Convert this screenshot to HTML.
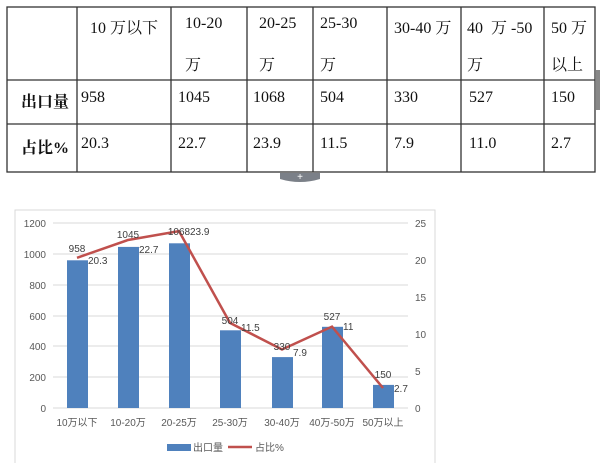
<!DOCTYPE html>
<html><head><meta charset="utf-8"><style>
body{margin:0;width:600px;height:463px;background:#fff;overflow:hidden;position:relative;font-family:"Liberation Serif","Noto Serif CJK SC",serif}
.c{position:absolute;font-size:16px;color:#111}
</style></head><body>
<svg width="600" height="463" style="position:absolute;left:0;top:0">
<g stroke="#333" stroke-width="1.3" fill="none">
<rect x="7" y="7" width="588" height="165"/>
<line x1="7" y1="80" x2="595" y2="80"/><line x1="7" y1="124" x2="595" y2="124"/>
<line x1="77" y1="7" x2="77" y2="172"/><line x1="171" y1="7" x2="171" y2="172"/>
<line x1="247" y1="7" x2="247" y2="172"/><line x1="313" y1="7" x2="313" y2="172"/>
<line x1="387" y1="7" x2="387" y2="172"/><line x1="461" y1="7" x2="461" y2="172"/>
<line x1="544" y1="7" x2="544" y2="172"/>
</g>
<path d="M280 173 h40 v6 q-20 6 -40 0z" fill="#7b8088"/>
<text x="300" y="180" font-size="10" fill="#fff" text-anchor="middle" font-family="Liberation Sans">+</text>
<rect x="596" y="70" width="4" height="40" fill="#888"/>
<rect x="15" y="210" width="420" height="260" fill="#fff" stroke="#d9d9d9"/>
<g stroke="#d9d9d9" stroke-width="1">
<line x1="53" y1="223" x2="408" y2="223"/><line x1="53" y1="254" x2="408" y2="254"/>
<line x1="53" y1="285" x2="408" y2="285"/><line x1="53" y1="316" x2="408" y2="316"/>
<line x1="53" y1="346" x2="408" y2="346"/><line x1="53" y1="377" x2="408" y2="377"/>
<line x1="53" y1="408" x2="408" y2="408"/>
</g>
<g fill="#4f81bd">
<rect x="67" y="260.3" width="21" height="147.7"/>
<rect x="118" y="246.9" width="21" height="161.1"/>
<rect x="169" y="243.3" width="21" height="164.7"/>
<rect x="220" y="330.3" width="21" height="77.7"/>
<rect x="272" y="357.1" width="21" height="50.9"/>
<rect x="322" y="326.8" width="21" height="81.2"/>
<rect x="373" y="384.9" width="21" height="23.1"/>
</g>
<polyline fill="none" stroke="#c0504d" stroke-width="2.5" points="77,257.8 128,240 179,231.1 230,322.9 282,349.5 332,326.6 383,388"/>
<g font-family="Liberation Sans,Noto Sans CJK SC,sans-serif" font-size="10" fill="#595959">
<g text-anchor="end"><text x="46" y="227">1200</text><text x="46" y="258">1000</text><text x="46" y="289">800</text><text x="46" y="320">600</text><text x="46" y="350">400</text><text x="46" y="381">200</text><text x="46" y="412">0</text></g>
<g><text x="415" y="227">25</text><text x="415" y="264">20</text><text x="415" y="301">15</text><text x="415" y="338">10</text><text x="415" y="375">5</text><text x="415" y="412">0</text></g>
<g text-anchor="middle"><text x="77" y="426">10万以下</text><text x="128" y="426">10-20万</text><text x="179" y="426">20-25万</text><text x="230" y="426">25-30万</text><text x="282" y="426">30-40万</text><text x="332" y="426">40万-50万</text><text x="383" y="426">50万以上</text></g>
<g fill="#404040">
<text x="77" y="252" text-anchor="middle">958</text><text x="88" y="264">20.3</text>
<text x="128" y="238" text-anchor="middle">1045</text><text x="139" y="253">22.7</text>
<text x="179" y="235" text-anchor="middle">1068</text><text x="190" y="235">23.9</text>
<text x="230" y="324" text-anchor="middle">504</text><text x="241" y="331">11.5</text>
<text x="282" y="350" text-anchor="middle">330</text><text x="293" y="356">7.9</text>
<text x="332" y="320" text-anchor="middle">527</text><text x="343" y="330">11</text>
<text x="383" y="378" text-anchor="middle">150</text><text x="394" y="392">2.7</text>
</g>
<rect x="167" y="444" width="24" height="7" fill="#4f81bd"/><text x="193" y="451" font-size="10">出口量</text>
<line x1="228" y1="447" x2="252" y2="447" stroke="#c0504d" stroke-width="2.5"/><text x="255" y="451">占比%</text>
</g>
</svg>
<div class="c" style="left:90px;top:15px">10 万以下</div>
<div class="c" style="left:185px;top:15px">10-20</div><div class="c" style="left:185px;top:52px">万</div>
<div class="c" style="left:259px;top:15px">20-25</div><div class="c" style="left:259px;top:52px">万</div>
<div class="c" style="left:283px;top:15px;left:283px;display:none"></div>
<div class="c" style="left:283px;top:15px;display:none"></div>
<div class="c" style="left:283px;top:15px;display:none"></div>
<div class="c" style="left:283px;top:15px;display:none"></div>
<div class="c" style="left:283px;top:15px;display:none"></div>
<div class="c" style="left:283px;top:15px;display:none"></div>
<div class="c" style="left:283px;top:15px;display:none"></div>
<div class="c" style="left:283px;top:15px;display:none"></div>
<div class="c" style="left:283px;top:15px;display:none"></div>
<div class="c" style="left:283px;top:15px;display:none"></div>
<div class="c" style="left:283px;top:15px;display:none"></div>
<div class="c" style="left:283px;top:15px;display:none"></div>
<div class="c" style="left:283px;top:15px;display:none"></div>
<div class="c" style="left:283px;top:15px;display:none"></div>
<div class="c" style="left:283px;top:15px;display:none"></div>
<div class="c" style="left:283px;top:15px;display:none"></div>
<div class="c" style="left:283px;top:15px;display:none"></div>
<div class="c" style="left:283px;top:15px;display:none"></div>
<div class="c" style="left:283px;top:15px;display:none"></div>
<div class="c" style="left:283px;top:15px;display:none"></div>
<div class="c" style="left:283px;top:15px;display:none"></div>
<div class="c" style="left:283px;top:15px;display:none"></div>
<div class="c" style="left:283px;top:15px;display:none"></div>
<div class="c" style="left:283px;top:15px;display:none"></div>
<div class="c" style="left:283px;top:15px;display:none"></div>
<div class="c" style="left:283px;top:15px;display:none"></div>
<div class="c" style="left:283px;top:15px;display:none"></div>
<div class="c" style="left:283px;top:15px;display:none"></div>
<div class="c" style="left:283px;top:15px;display:none"></div>
<div class="c" style="left:283px;top:15px;display:none"></div>
<div class="c" style="left:283px;top:15px;display:none"></div>
<div class="c" style="left:283px;top:15px;display:none"></div>
<div class="c" style="left:283px;top:15px;display:none"></div>
<div class="c" style="left:283px;top:15px;display:none"></div>
<div class="c" style="left:283px;top:15px;display:none"></div>
<div class="c" style="left:283px;top:15px;display:none"></div>
<div class="c" style="left:283px;top:15px;display:none"></div>
<div class="c" style="left:283px;top:15px;display:none"></div>
<div class="c" style="left:283px;top:15px;display:none"></div>
<div class="c" style="left:283px;top:15px;display:none"></div>
<div class="c" style="left:320px;top:15px">25-30</div><div class="c" style="left:320px;top:52px">万</div>
<div class="c" style="left:394px;top:15px">30-40 万</div>
<div class="c" style="left:467px;top:15px">40&nbsp; 万 -50</div><div class="c" style="left:467px;top:52px">万</div>
<div class="c" style="left:551px;top:15px">50 万</div><div class="c" style="left:551px;top:52px">以上</div>
<div class="c" style="left:21px;top:89px;font-weight:bold">出口量</div>
<div class="c" style="left:81px;top:89px">958</div><div class="c" style="left:178px;top:89px">1045</div><div class="c" style="left:253px;top:89px">1068</div><div class="c" style="left:320px;top:89px">504</div><div class="c" style="left:394px;top:89px">330</div><div class="c" style="left:469px;top:89px">527</div><div class="c" style="left:551px;top:89px">150</div>
<div class="c" style="left:21px;top:135px;font-weight:bold">占比%</div>
<div class="c" style="left:81px;top:135px">20.3</div><div class="c" style="left:178px;top:135px">22.7</div><div class="c" style="left:253px;top:135px">23.9</div><div class="c" style="left:320px;top:135px">11.5</div><div class="c" style="left:394px;top:135px">7.9</div><div class="c" style="left:469px;top:135px">11.0</div><div class="c" style="left:551px;top:135px">2.7</div>
</body></html>
